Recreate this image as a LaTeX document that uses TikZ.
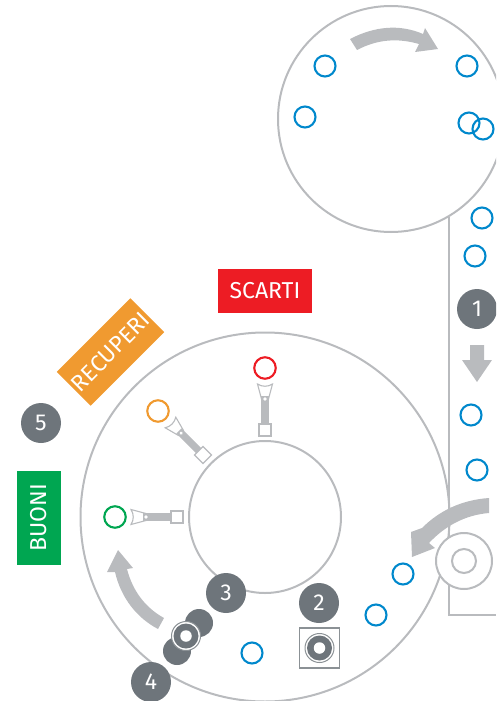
\documentclass[tikz,border=0pt]{standalone}
\usepackage{fontspec}
\setmainfont{Fira Sans}
\usepackage{xcolor}
\usetikzlibrary{positioning}
\definecolor{linegray}{HTML}{B9BBBE}
\definecolor{badgegray}{HTML}{6E757B}
\definecolor{bottleblue}{HTML}{0088CC}
\definecolor{scartired}{HTML}{ED1C24}
\definecolor{recuperiorange}{HTML}{F09A30}
\definecolor{buonigreen}{HTML}{00A651}
\begin{document}
\begin{tikzpicture}[
    x=1pt, y=-1pt,
    track/.style={draw=linegray, line width=2pt},
    bottle/.style={circle, draw=#1, line width=2.1pt, fill=none, minimum size=21pt, inner sep=0pt},
    bottle/.default=bottleblue,
    badge/.style={circle, fill=badgegray, text=white, minimum size=40pt, inner sep=0pt, font=\fontsize{23}{23}\selectfont},
    label/.style={fill=#1, text=white, minimum width=94pt, minimum height=44pt, inner sep=0pt, font=\fontsize{23}{23}\selectfont},
    flow/.style={fill=linegray},
    seat/.style={circle, draw=badgegray!80, line width=1pt, fill=white, minimum size=29pt, inner sep=0pt},
    plate/.style={circle, fill=badgegray, minimum size=25pt, inner sep=0pt},
    hole/.style={circle, fill=white, minimum size=11.5pt, inner sep=0pt},
    blank/.style={circle, fill=badgegray, minimum size=28pt, inner sep=0pt},
    gripper/.pic={
      \draw[draw=linegray, line width=1.1pt, fill=white] (-3.5,-31) -- (-7.5,-46) .. controls (-3,-43) and (3,-43) .. (7.5,-46) -- (3.5,-31) -- cycle;
      \fill[linegray] (-3.7,0) rectangle (3.7,-34);
      \fill[white] (0,-31) circle (1.8);
      \draw[draw=linegray, line width=1.2pt, fill=white] (-6,-6) rectangle (6,6);
    },
  ]
    \useasboundingbox (0,0) rectangle (496,701);
    \clip (0,0) rectangle (496,701);
    % tables
    \draw[track] (391,119) circle (113);
    \draw[track] (265,517) circle (184.5);
    \draw[track] (265,517) circle (76);
    % conveyor
    \coordinate (beltTop) at (449,217);
    \coordinate (beltCorner) at (449,615);
    \coordinate (beltEnd) at (496,615);
    \draw[track] (beltTop) -- (beltCorner) -- (beltEnd);
    \node[circle, draw=linegray, line width=2pt, fill=white, minimum size=56pt, inner sep=0pt] (roller) at (464,561) {};
    \node[circle, draw=linegray, line width=2pt, minimum size=24pt, inner sep=0pt] (rollerHub) at (464,561) {};
    % flow arrows
    \fill[flow] (350,39) .. controls (375,26) and (400,24) .. (423,34) -- (425,28) -- (438,49) -- (415,52) -- (419,44) .. controls (398,38) and (378,39) .. (357,50) -- cycle;
    \fill[flow] (470,345) -- (484,345) -- (484,360) -- (492,360) -- (477,382) -- (462,360) -- (470,360) -- cycle;
    \fill[flow] (489,498) .. controls (461,500) and (439,511) .. (422,528) -- (411,532) -- (412,557) -- (435,548) -- (429,543) .. controls (445,526) and (465,515) .. (489,513) -- cycle;
    \fill[flow] (164,618) .. controls (146,608) and (133,592) .. (127,569) -- (133,568) -- (118,550) -- (107,572) -- (115,572) .. controls (121,598) and (137,618) .. (158,629) -- cycle;
    % bottles on the way
    \node[bottle] (b1) at (325,66) {};
    \node[bottle] (b2) at (467,66) {};
    \node[bottle] (b3) at (305,117) {};
    \node[bottle] (b4) at (469,123) {};
    \node[bottle] (b5) at (483,129) {};
    \node[bottle] (b6) at (482,218) {};
    \node[bottle] (b7) at (475,256) {};
    \node[bottle] (b8) at (471,415) {};
    \node[bottle] (b9) at (477,470) {};
    \node[bottle] (b10) at (403,574) {};
    \node[bottle] (b11) at (376,615) {};
    \node[bottle] (b12) at (252,653) {};
    % grippers
    \pic[rotate=0] at (265,430) {gripper};
    \pic[rotate=45] at (203,455) {gripper};
    \pic[rotate=90] at (177,517) {gripper};
    \node[bottle=scartired, minimum size=21.5pt] (redBottle) at (265,368) {};
    \node[bottle=recuperiorange, minimum size=21.5pt] (orangeBottle) at (158,411) {};
    \node[bottle=buonigreen, minimum size=21.5pt] (greenBottle) at (115,517) {};
    % station 2
    \node[draw=badgegray!80, line width=1.2pt, minimum size=40pt, inner sep=0pt] (seatBox) at (319.5,648) {};
    \node[seat] (seatTwo) at (319.5,648) {};
    \node[plate] (plateTwo) at (319.5,648) {};
    \node[hole] (holeTwo) at (319.5,648) {};
    % stations 3 and 4
    \node[blank] (blankUp) at (199,623) {};
    \node[blank] (blankDown) at (177,651) {};
    \node[seat] (seatFour) at (186,636) {};
    \node[plate] (plateFour) at (186,636) {};
    \node[hole] (holeFour) at (186,636) {};
    % numbers
    \node[badge] (n1) at (477,309) {1};
    \node[badge] (n2) at (319,603) {2};
    \node[badge] (n3) at (226,593) {3};
    \node[badge] (n4) at (151,682) {4};
    \node[badge] (n5) at (41,423) {5};
    % bins
    \node[label=scartired] (scarti) at (265,291) {SCARTI};
    \node[label=recuperiorange, rotate=45, minimum width=104pt, minimum height=48pt] (recuperi) at (110.5,352) {RECUPERI};
    \node[label=buonigreen, rotate=90] (buoni) at (39,518) {BUONI};
\end{tikzpicture}
\end{document}
